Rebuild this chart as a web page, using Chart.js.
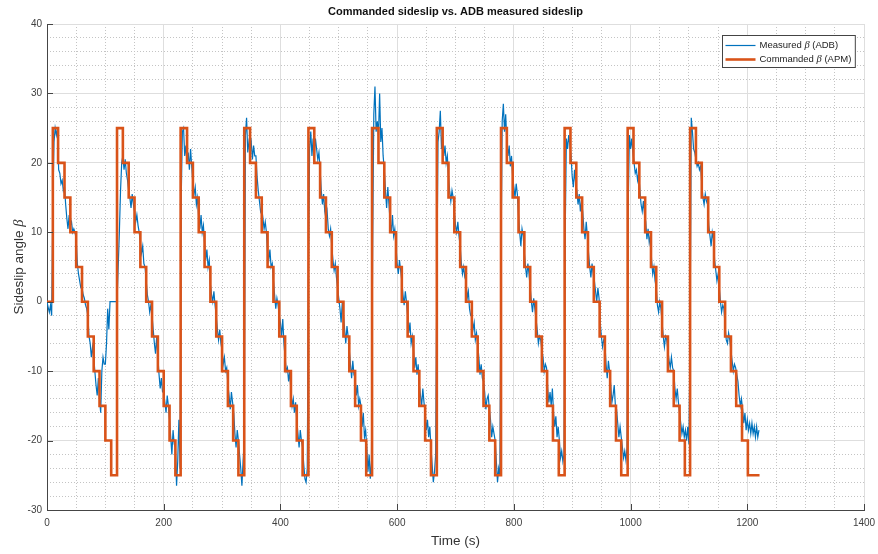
<!DOCTYPE html>
<html>
<head>
<meta charset="utf-8">
<title>Commanded sideslip vs. ADB measured sideslip</title>
<script src="https://cdn.jsdelivr.net/npm/chart.js@4.4.1/dist/chart.umd.min.js"></script>
<style>
  html, body { margin: 0; padding: 0; background: #fff; }
  canvas { display: block; }
</style>
</head>
<body>
<canvas id="sideslip" width="878" height="554"></canvas>
<script>
// Commanded sideslip levels of one sweep, in the order they are held (deg)
const cmdLevels = [25, 20, 15, 10, 5, 0, -5, -10, -15, -20, -25];

// Switch times (s) of each sweep: entry k is when cmdLevels[k] starts
const cmdSwitches = [
  [10, 19, 30, 40, 50, 60, 70, 80, 90, 100, 110],
  [120, 130, 140, 150, 160, 170, 180, 190, 200, 210, 220],
  [229, 240, 250, 260, 270, 280, 290, 300, 310, 319, 328],
  [338, 348, 358, 368, 378, 388, 398, 408, 418, 428, 438],
  [448, 458, 468, 478, 488, 498, 508, 518, 528, 538, 547],
  [557, 568, 578, 588, 598, 608, 618, 628, 638, 648, 658],
  [668, 678, 688, 698, 708, 718, 728, 738, 748, 758, 768],
  [778, 788, 798, 808, 818, 828, 838, 848, 857, 867, 877],
  [887, 897, 907, 917, 927, 937, 947, 956, 965, 975, 984],
  [995, 1005, 1015, 1025, 1035, 1044, 1054, 1064, 1074, 1084, 1093],
  [1102, 1112, 1122, 1133, 1143, 1152, 1162, 1172, 1181, 1191, 1201]
];
const cmdInitial = 0;   // value held before the first sweep
const cmdEnd = 1221;    // last sample of the command log (s)

// ADB measured sideslip, one sample every 2 s from t = 0 (deg)
const measDt = 2;
const measured = [
  0, -0.8, -1.5, -0.5, -2, 14, 23, 25, 24, 25,
  19, 18.5, 17, 17.5, 16, 16.5, 14, 12, 10.5, 12.5,
  11, 11.5, 10, 10.5, 10, 9, 5.5, 4, 3, 2,
  2, 1, 0.5, -0.5, -1, -2, -5, -6, -8, -6.5,
  -8, -10, -12, -13.5, -11, -14, -16, -10, -8, -9,
  -9, -6, -1, -4, 0, 0, 0, 0, 0, 0,
  0, 5, 10, 16, 20, 21, 19, 20.5, 18.5, 17.5,
  16, 15, 13.5, 15.5, 14, 13, 11.5, 12.5, 11, 10,
  8.5, 7, 8, 5.5, 5, 3, 1, 0, -1.5, -0.5,
  -2, -4, -6, -7.5, -5, -8, -10.5, -12.5, -11, -13,
  -13, -14.5, -16, -13.5, -15, -17, -19.5, -22, -18.5, -20.5,
  -21, -26.5, -23, -17, -24, 15, 24.5, 25, 21, 22.5,
  20, 21.5, 19, 22, 19.5, 17, 15.5, 16.5, 14, 15,
  12, 10.5, 12.5, 10, 11, 8.5, 6, 7.5, 5, 6,
  2.5, 1, 0, 1.5, -0.5, -2, -4, -5.5, -4, -6,
  -7, -9, -8, -10, -9.5, -12, -13.5, -15.5, -13, -14.5,
  -16, -19, -21, -18.5, -20, -22, -24, -26.5, -23, -20,
  24, 26.5, 21.5, 23, 22, 23, 20.5, 22.5, 21, 21,
  18, 16, 14.5, 13, 13.5, 12, 10.5, 11.5, 10, 7,
  6, 7.5, 5, 5.5, 3, 1, -1, 0.5, -0.5, -2,
  -3, -5, -2.5, -6, -8, -10, -9.5, -11.5, -10, -13,
  -15, -14, -16, -14.5, -17, -19, -21, -18.5, -20, -21,
  -23.5, -25.5, -26, -24, 5, 22, 24.5, 21, 23.5, 21,
  23.5, 22, 20.5, 21.5, 19, 16, 14, 15.5, 13, 12,
  13, 10.5, 9.5, 10.5, 8, 6, 4.5, 5.5, 3.5, 2,
  0.5, -1, -3, 0, -2, -4, -6, -3.5, -5, -7,
  -9, -11, -8.5, -10.5, -11, -13.5, -12, -15, -14, -15,
  -18, -16, -19.5, -18.5, -21, -24.5, -22, -25.5, -23, 8,
  27, 31, 24.5, 26, 24, 30, 23, 25, 21, 19,
  16, 13.5, 16.5, 14, 11.5, 10, 12.5, 9.5, 10.5, 8,
  5.5, 4, 6, 4.5, 3, 1, -0.5, 1.5, 0, -2,
  -4.5, -3, -6, -5, -7, -9.5, -8, -10.5, -9, -12,
  -13.5, -15, -12.5, -14.5, -16, -18.5, -17, -19.5, -18, -21,
  -23.5, -26, -24.5, -22, 3, 23, 24.5, 27.5, 22, 24,
  21, 22.5, 20, 21, 18, 16, 14.5, 16, 15, 13,
  11, 10, 11.5, 9.5, 8, 5.5, 4, 5, 3.5, 3,
  0.5, 1.5, -1, -2, -2, -4, -3, -5.5, -4.5, -6,
  -8, -10.5, -9, -11, -11.5, -13, -15.5, -14, -13.5, -15.5,
  -17, -19.5, -18, -19, -20, -23, -26, -24, -25, 6,
  26, 28.5, 24.5, 27, 23, 21, 22.5, 19.5, 21, 18,
  16.5, 15, 17, 15.5, 12.5, 10, 8, 10.5, 9.5, 7,
  5, 3.5, 5.5, 4, 2, 0, -1.5, 0.5, -1, -2.5,
  -4, -6, -5, -5.5, -7, -8, -10, -9, -9.5, -12.5,
  -14.5, -13, -15, -12.5, -16, -18, -16.5, -19.5, -18, -20,
  -22.5, -21.5, -23, -22, 10, 23.5, 22, 24, 22.5, 21,
  18, 16.5, 19, 17, 16, 14, 15.5, 13, 14.5, 13,
  10.5, 9, 11.5, 9.5, 7, 5, 3.5, 5.5, 4, 3,
  1.5, 0, 2, 0.5, -3, -5, -6.5, -5.5, -6, -9,
  -11, -8.5, -10, -12, -14.5, -13.5, -12, -15, -15.5, -17.5,
  -19.5, -18, -19.5, -21, -22.5, -21.5, -22.8, -21, 14, 24,
  22, 23.5, 21.5, 20, 18.5, 19, 17.5, 18.5, 16, 14,
  13, 14.5, 12.5, 11.5, 9, 10.5, 8.5, 9.5, 6, 4,
  5, 3, 2, -0.5, -1.5, 0, -1, -3, -5, -6.5,
  -5, -5.5, -7, -8.5, -9.5, -8, -9.5, -10, -12.5, -14,
  -12.5, -14.5, -16, -17.5, -19, -18, -19.5, -18.5, -20, -18,
  -20.5, -5, 26.5, 24.5, 22, 21.5, 20.5, 19.5, 20, 19,
  19.5, 17, 15, 14, 15.5, 14.5, 14, 11, 9.5, 8,
  10, 9, 6, 4.5, 3, 4, 2, 0, -1.5, -0.5,
  -1, -3.5, -5.5, -6, -4.5, -5.5, -7, -8.5, -10, -9,
  -9.5, -10.5, -11.5, -13.5, -15, -14, -15.5, -17.5, -16, -18.5,
  -17, -18.5, -17.5, -19, -17.5, -19, -18, -19.5, -18, -19.5,
  -18.5
];

// Axis ticks
const xTicks = [0, 200, 400, 600, 800, 1000, 1200, 1400];
const yTicks = [-30, -20, -10, 0, 10, 20, 30, 40];
const xMinorStep = 50;
const yMinorStep = 2;

const titleText = 'Commanded sideslip vs. ADB measured sideslip';
const xLabel = 'Time (s)';
const yLabel = 'Sideslip angle β';

// ---- build the point lists ----
const commandedPts = [{ x: 0, y: cmdInitial }];
cmdSwitches.forEach(sweep => {
  sweep.forEach((t, k) => commandedPts.push({ x: t, y: cmdLevels[k] }));
});
commandedPts.push({ x: cmdEnd, y: cmdLevels[cmdLevels.length - 1] });

const measuredPts = measured.map((v, i) => ({ x: i * measDt, y: v }));

const SANS = '"Liberation Sans", Arial, sans-serif';
const SERIF = '"Liberation Serif", "Times New Roman", serif';
const AXIS_COLOR = '#454545';

// split "text β text" so the greek letter can be drawn in italic
function partsOf(label) {
  const out = [];
  label.split(/(β)/).forEach(s => {
    if (s) out.push({ t: s, it: s === 'β' });
  });
  return out;
}

function fontFor(p, size) {
  return p.it ? `italic ${size + 1}px ${SERIF}` : `${size}px ${SANS}`;
}

function richWidth(ctx, parts, size) {
  let w = 0;
  parts.forEach(p => { ctx.font = fontFor(p, size); w += ctx.measureText(p.t).width; });
  return w;
}

function drawRich(ctx, parts, x, y, size) {
  let cx = x;
  parts.forEach(p => {
    ctx.font = fontFor(p, size);
    ctx.fillText(p.t, cx, y);
    cx += ctx.measureText(p.t).width;
  });
}

// title, axis labels, inward ticks and the boxed legend
const decoraciones = {
  id: 'decoraciones',
  afterDraw(chart) {
    const { ctx, chartArea: a, scales } = chart;
    const x = scales.x, y = scales.y;
    ctx.save();

    // tick marks pointing into the plot
    ctx.strokeStyle = AXIS_COLOR;
    ctx.lineWidth = 1;
    ctx.beginPath();
    xTicks.forEach(v => {
      const px = Math.round(x.getPixelForValue(v)) + 0.5;
      ctx.moveTo(px, a.bottom);
      ctx.lineTo(px, a.bottom - 6);
    });
    yTicks.forEach(v => {
      const py = Math.round(y.getPixelForValue(v)) + 0.5;
      ctx.moveTo(a.left, py);
      ctx.lineTo(a.left + 6, py);
    });
    ctx.stroke();

    const cx = (a.left + a.right) / 2;
    const cy = (a.top + a.bottom) / 2;

    // title
    ctx.fillStyle = '#111';
    ctx.textBaseline = 'middle';
    ctx.textAlign = 'center';
    ctx.font = `bold 11px ${SANS}`;
    ctx.fillText(titleText, cx, 12);

    // x label
    ctx.fillStyle = '#333';
    ctx.font = `13.5px ${SANS}`;
    ctx.fillText(xLabel, cx, 541);

    // y label, rotated
    ctx.textAlign = 'left';
    const yParts = partsOf(yLabel);
    const yw = richWidth(ctx, yParts, 13.5);
    ctx.save();
    ctx.translate(19, cy);
    ctx.rotate(-Math.PI / 2);
    drawRich(ctx, yParts, -yw / 2, 0, 13.5);
    ctx.restore();

    // legend
    const sets = chart.data.datasets;
    const size = 9.5;
    let tw = 0;
    sets.forEach(ds => { tw = Math.max(tw, richWidth(ctx, partsOf(ds.label), size)); });
    const boxW = 37 + tw + 4;
    const boxH = 32;
    const bx = Math.round(a.right - 9 - boxW) + 0.5;
    const by = Math.round(a.top + 11) + 0.5;
    ctx.fillStyle = '#fff';
    ctx.fillRect(bx, by, boxW, boxH);
    ctx.strokeStyle = '#444';
    ctx.lineWidth = 1;
    ctx.strokeRect(bx, by, boxW, boxH);
    sets.forEach((ds, i) => {
      const ry = by + 10 + i * 14;
      ctx.strokeStyle = ds.borderColor;
      ctx.lineWidth = ds.borderWidth;
      ctx.beginPath();
      ctx.moveTo(bx + 3, ry);
      ctx.lineTo(bx + 33, ry);
      ctx.stroke();
      ctx.fillStyle = '#222';
      drawRich(ctx, partsOf(ds.label), bx + 37, ry, size);
    });

    ctx.restore();
  }
};

const tickFont = { family: SANS, size: 10 };
const plainNumber = v => String(v);

new Chart(document.getElementById('sideslip'), {
  type: 'line',
  data: {
    datasets: [
      {
        label: 'Measured β (ADB)',
        data: measuredPts,
        borderColor: '#0072BD',
        borderWidth: 1.2,
        pointRadius: 0,
        tension: 0,
        order: 1
      },
      {
        label: 'Commanded β (APM)',
        data: commandedPts,
        borderColor: '#D95319',
        borderWidth: 2.6,
        pointRadius: 0,
        stepped: true,
        order: 0
      }
    ]
  },
  options: {
    responsive: false,
    animation: false,
    devicePixelRatio: 1,
    layout: { padding: { top: 24, right: 14, left: 0, bottom: 0 } },
    plugins: {
      legend: { display: false },
      title: { display: false },
      tooltip: { enabled: false }
    },
    scales: {
      x: {
        type: 'linear',
        min: xTicks[0],
        max: xTicks[xTicks.length - 1],
        afterBuildTicks: s => { s.ticks = xTicks.map(v => ({ value: v })); },
        afterFit: s => { s.height = 44; s.paddingLeft = 0; s.paddingRight = 0; },
        ticks: { autoSkip: false, maxRotation: 0, padding: 7, color: '#404040', font: tickFont, callback: plainNumber },
        grid: { color: '#dedede', lineWidth: 1, drawTicks: false },
        border: { color: AXIS_COLOR, width: 1 }
      },
      xMinor: {
        type: 'linear',
        position: 'bottom',
        min: xTicks[0],
        max: xTicks[xTicks.length - 1],
        afterFit: s => { s.height = 0; s.paddingLeft = 0; s.paddingRight = 0; },
        ticks: { display: false, autoSkip: false, stepSize: xMinorStep },
        grid: {
          color: c => (c.tick && c.tick.value % 200 === 0) ? 'rgba(0,0,0,0)' : '#c4c4c4',
          lineWidth: 1,
          drawTicks: false
        },
        border: { display: false, dash: [1, 2] }
      },
      y: {
        type: 'linear',
        position: 'left',
        min: yTicks[0],
        max: yTicks[yTicks.length - 1],
        afterBuildTicks: s => { s.ticks = yTicks.map(v => ({ value: v })); },
        afterFit: s => { s.width = 47; s.paddingTop = 0; s.paddingBottom = 0; },
        ticks: { autoSkip: false, padding: 5, color: '#404040', font: tickFont, callback: plainNumber },
        grid: { color: '#dedede', lineWidth: 1, drawTicks: false },
        border: { color: AXIS_COLOR, width: 1 }
      },
      yMinor: {
        type: 'linear',
        position: 'left',
        min: yTicks[0],
        max: yTicks[yTicks.length - 1],
        afterFit: s => { s.width = 0; s.paddingTop = 0; s.paddingBottom = 0; },
        ticks: { display: false, autoSkip: false, stepSize: yMinorStep },
        grid: {
          color: c => (c.tick && c.tick.value % 10 === 0) ? 'rgba(0,0,0,0)' : '#c4c4c4',
          lineWidth: 1,
          drawTicks: false
        },
        border: { display: false, dash: [1, 2] }
      }
    }
  },
  plugins: [decoraciones]
});
</script>
</body>
</html>
